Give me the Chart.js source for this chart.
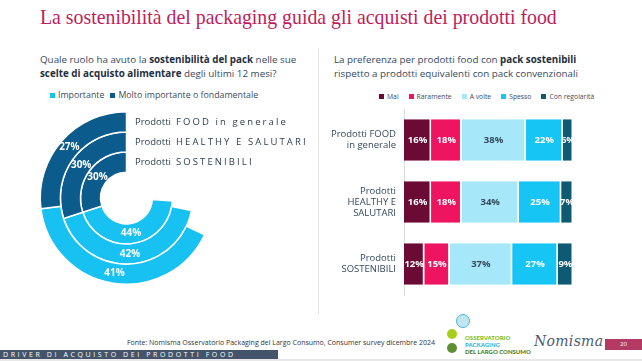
<!DOCTYPE html>
<html>
<head>
<meta charset="utf-8">
<script src="https://cdn.jsdelivr.net/npm/chart.js@4.4.1/dist/chart.umd.min.js"></script>
<style>
  html, body { margin: 0; padding: 0; }
  body { width: 642px; height: 361px; overflow: hidden; position: relative; background: #fff; font-family: "Open Sans", sans-serif; color: #2d3e50; }
  .abs { position: absolute; }
  #title { left: 40px; top: 4px; font-family: "Liberation Serif", serif; font-size: 22px; color: #c01c5a; white-space: nowrap; transform-origin: left top; }
  .q { font-size: 9.8px; line-height: 13.5px; color: #34495e; white-space: nowrap; }
  .q b { color: #1f2f40; }
  .legend { color: #3c4c5c; white-space: nowrap; display: flex; align-items: center; }
  .legend span.sw { display: inline-block; width: 5px; height: 5px; margin-right: 3px; }
  .legend span.it { display: inline-flex; align-items: center; }
  #legend1 { font-size: 8.8px; }
  #legend1 span.it { margin-right: 6px; }
  #legend2 { font-size: 6.8px; }
  #legend2 span.it { margin-right: 10px; }
  #divider { left: 318px; top: 48px; width: 1px; height: 266px; background: #e4e4e4; }
  #fonte { right: 207px; top: 338px; font-size: 7px; color: #333; white-space: nowrap; }
  #band { left: 0; top: 350px; width: 278px; height: 9px; background: #44546a; color: #fff; font-size: 7px; line-height: 9px; letter-spacing: 2.6px; padding-left: 3px; box-sizing: border-box; white-space: nowrap; }
  #strip { left: 0; top: 359px; width: 642px; height: 2px; background: #e8e8e8; }
  #page { left: 605px; top: 339px; width: 37px; height: 11px; background: #b33a62; color: #fff; font-size: 6px; line-height: 11px; text-align: center; }
  #nomisma { left: 534px; top: 333px; font-family: "DejaVu Serif", serif; font-style: italic; font-size: 14px; color: #4a5a70; letter-spacing: 0.3px; }
  .logo { font-family: "Lato", sans-serif; font-weight: 900; font-size: 6px; line-height: 7px; white-space: nowrap; }
  .dot { border-radius: 50%; }
</style>
</head>
<body>
<div id="title" class="abs">La sostenibilità del packaging guida gli acquisti dei prodotti food</div>

<div class="abs q" style="left:40px; top:53px;">Quale ruolo ha avuto la <b>sostenibilità del pack</b> nelle sue<br><b>scelte di acquisto alimentare</b> degli ultimi 12 mesi?</div>
<div id="legend1" class="abs legend" style="left:50px; top:89px;"></div>
<canvas id="donut" class="abs" width="318" height="205" style="left:0; top:100px;"></canvas>

<div id="divider" class="abs"></div>

<div class="abs q" style="left:334px; top:53px;">La preferenza per prodotti food con <b>pack sostenibili</b><br>rispetto a prodotti equivalenti con pack convenzionali</div>
<div id="legend2" class="abs legend" style="left:379px; top:92px;"></div>
<canvas id="bars" class="abs" width="322" height="200" style="left:320px; top:100px;"></canvas>

<div id="fonte" class="abs">Fonte: Nomisma Osservatorio Packaging del Largo Consumo, Consumer survey dicembre 2024</div>
<div class="abs dot" style="left:456px; top:314px; width:12px; height:12px; background:#bfe6f2; border:1px solid #4fb7dc;"></div>
<div class="abs dot" style="left:447px; top:329px; width:10px; height:10px; background:#a6cf1d;"></div>
<div class="abs dot" style="left:447px; top:343px; width:10px; height:10px; background:#5f8f35;"></div>
<div class="abs logo" style="left:465px; top:334px; color:#7fbf2a;">OSSERVATORIO</div>
<div class="abs logo" style="left:465px; top:341px; color:#37b3d6;">PACKAGING</div>
<div class="abs logo" style="left:465px; top:348px; color:#4d7f2c;">DEL LARGO CONSUMO</div>
<div id="nomisma" class="abs">Nomisma</div>
<div id="page" class="abs">20</div>
<div id="band" class="abs">DRIVER DI ACQUISTO DEI PRODOTTI FOOD</div>
<div id="strip" class="abs"></div>

<script>
// left chart: role of pack sustainability
const ringNames = ['FOOD in generale', 'HEALTHY E SALUTARI', 'SOSTENIBILI'];
const importante = [41, 42, 44];
const moltoImportante = [27, 30, 30];
const donutSeries = ['Importante', 'Molto importante o fondamentale'];
const donutColors = ['#17c1f2', '#0b5b8c'];

// right chart: preference for sustainable packs
const barCategories = [['Prodotti FOOD', 'in generale'], ['Prodotti', 'HEALTHY E', 'SALUTARI'], ['Prodotti', 'SOSTENIBILI']];
const freqLabels = ['Mai', 'Raramente', 'A volte', 'Spesso', 'Con regolarità'];
const mai = [16, 16, 12];
const raramente = [18, 18, 15];
const aVolte = [38, 34, 37];
const spesso = [22, 25, 27];
const conRegolarita = [6, 7, 9];
const barColors = ['#6b0a35', '#ee145f', '#a7e7fa', '#17c5f5', '#0e5a73'];
const barTextColors = ['#fff', '#fff', '#34495e', '#fff', '#fff'];

// fit the title width
const title = document.getElementById('title');
title.style.transform = 'scaleX(' + (517 / title.scrollWidth) + ')';

function buildLegend(id, labels, colors) {
  const el = document.getElementById(id);
  labels.forEach((l, i) => {
    const it = document.createElement('span');
    it.className = 'it';
    it.innerHTML = '<span class="sw" style="background:' + colors[i] + '"></span>' + l;
    el.appendChild(it);
  });
}
buildLegend('legend1', donutSeries, donutColors);
buildLegend('legend2', freqLabels, barColors);

// drawn counterclockwise in the original: empty part first, then light, then dark ending at 12 o'clock
const donutSets = ringNames.map((n, i) => ({
  label: n,
  data: [100 - importante[i] - moltoImportante[i], importante[i], moltoImportante[i]],
  backgroundColor: ['rgba(0,0,0,0)', donutColors[0], donutColors[1]],
  borderColor: '#fff',
  borderWidth: [0, 1.5, 1.5],
  hoverBorderWidth: 0
}));

function spacedText(ctx, txt, x, y, sp) {
  for (const ch of txt) {
    ctx.fillText(ch, x, y);
    x += ctx.measureText(ch).width + sp;
  }
}

const donutLabels = {
  id: 'donutLabels',
  afterDatasetsDraw(chart) {
    const ctx = chart.ctx;
    ctx.save();
    chart.data.datasets.forEach((ds, i) => {
      const meta = chart.getDatasetMeta(i);
      ctx.font = 'bold 10px "Open Sans"';
      ctx.fillStyle = '#fff';
      ctx.textAlign = 'center';
      ctx.textBaseline = 'middle';
      [1, 2].forEach(j => {
        const p = meta.data[j].getCenterPoint();
        ctx.fillText(ds.data[j] + '%', p.x, p.y);
      });
      const arc = meta.data[2];
      const y = arc.y - (arc.innerRadius + arc.outerRadius) / 2;
      const x = arc.x + 8.5;
      ctx.textAlign = 'left';
      ctx.fillStyle = '#2d3e50';
      ctx.font = '9.5px "Open Sans"';
      ctx.fillText('Prodotti', x, y);
      spacedText(ctx, ds.label, x + ctx.measureText('Prodotti').width + 5, y, 2.1);
    });
    ctx.restore();
  }
};

new Chart(document.getElementById('donut'), {
  type: 'doughnut',
  data: { labels: ['', donutSeries[0], donutSeries[1]], datasets: donutSets },
  options: {
    responsive: false,
    animation: false,
    devicePixelRatio: 1,
    cutout: '30%',
    layout: { padding: { left: 39.5, right: 104.5, top: 11, bottom: 20 } },
    plugins: { legend: { display: false }, tooltip: { enabled: false } }
  },
  plugins: [donutLabels]
});

const barSeries = [mai, raramente, aVolte, spesso, conRegolarita];

const barLabels = {
  id: 'barLabels',
  afterDatasetsDraw(chart) {
    const ctx = chart.ctx;
    ctx.save();
    ctx.font = 'bold 9.5px "Open Sans"';
    ctx.textAlign = 'center';
    ctx.textBaseline = 'middle';
    chart.data.datasets.forEach((ds, i) => {
      const meta = chart.getDatasetMeta(i);
      ctx.fillStyle = barTextColors[i];
      meta.data.forEach((bar, j) => {
        const p = bar.getCenterPoint();
        ctx.fillText(ds.data[j] + '%', p.x, p.y);
      });
    });
    ctx.restore();
  }
};

new Chart(document.getElementById('bars'), {
  type: 'bar',
  data: {
    labels: barCategories,
    datasets: barSeries.map((d, i) => ({
      label: freqLabels[i],
      data: d,
      backgroundColor: barColors[i],
      borderColor: '#fff',
      borderWidth: { top: 0, bottom: 0, left: 0, right: 1.5 },
      borderSkipped: false,
      barPercentage: 0.67,
      categoryPercentage: 1
    }))
  },
  options: {
    indexAxis: 'y',
    responsive: false,
    animation: false,
    devicePixelRatio: 1,
    layout: { padding: { left: 0, right: 69, top: 9, bottom: 5 } },
    scales: {
      x: { stacked: true, min: 0, max: 100, display: false },
      y: {
        stacked: true,
        grid: { display: false, drawTicks: false },
        border: { display: true, color: '#dcdcdc', width: 1 },
        ticks: { padding: 8, color: '#34495e', font: { family: 'Open Sans', size: 9.5, lineHeight: 1.15 } },
        afterFit(scale) {
          scale.width = 84;
          scale.paddingTop = 0;
          scale.paddingBottom = 0;
        }
      }
    },
    plugins: { legend: { display: false }, tooltip: { enabled: false } }
  },
  plugins: [barLabels]
});
</script>
</body>
</html>
